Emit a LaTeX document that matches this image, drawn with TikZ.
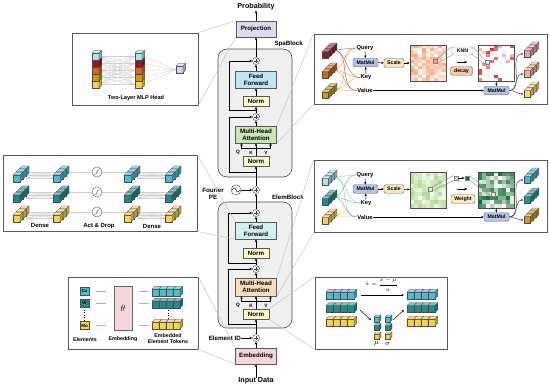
\documentclass[tikz,border=0pt]{standalone}
\usepackage{fontspec}
\setsansfont{Liberation Sans}
\usepackage{amsmath}
\usetikzlibrary{arrows.meta}

\definecolor{projfill}{HTML}{DCDCF0}
\definecolor{ffspa}{HTML}{BEE4F4}
\definecolor{ffelem}{HTML}{D2F0F0}
\definecolor{normfill}{HTML}{FAF8C8}
\definecolor{mhaspa}{HTML}{C8E6B4}
\definecolor{mhaelem}{HTML}{FADCB9}
\definecolor{embfill}{HTML}{F5D5DC}
\definecolor{blockfill}{HTML}{EFEFEF}
\definecolor{matfill}{HTML}{B4C3E6}
\definecolor{scalefill}{HTML}{F5E6C3}
\definecolor{decayfill}{HTML}{F5C8AA}
\definecolor{weightfill}{HTML}{F5EBC3}
\definecolor{cubecyanlt}{HTML}{A5E6E6}
\definecolor{cubered}{HTML}{8C1C24}
\definecolor{cubeorange}{HTML}{D2661E}
\definecolor{cubegold}{HTML}{C89B14}
\definecolor{cubeyellow}{HTML}{F5D250}
\definecolor{cubelav}{HTML}{D2D2EB}
\definecolor{cubecyan}{HTML}{4BBED2}
\definecolor{cubeteal}{HTML}{1E8C8C}
\definecolor{cubepink}{HTML}{F0A0AA}
\definecolor{cubepeach}{HTML}{F5B48C}
\definecolor{cubelemon}{HTML}{F5DC6E}
\definecolor{outcyan}{HTML}{4BB4D2}
\definecolor{outteal}{HTML}{1E9696}
\definecolor{outgold}{HTML}{C89B1E}
\definecolor{heatorange}{HTML}{E8783C}
\definecolor{heatred}{HTML}{C81E1E}
\definecolor{heatlgreen}{HTML}{8CC864}
\definecolor{heatdgreen}{HTML}{146E32}
\definecolor{embpink}{HTML}{F096AA}

\newcommand{\drawcube}[4]{%
  \filldraw[fill=#4,draw=black!70,line width=0.25pt] ({#1},{#2}) rectangle ++(#3,#3);
  \filldraw[fill=#4!55!white,draw=black!70,line width=0.25pt] ({#1},{#2}) -- ++(0.4*#3,-0.4*#3) -- ++(#3,0) -- ++(-0.4*#3,0.4*#3) -- cycle;
  \filldraw[fill=#4!75!black,draw=black!70,line width=0.25pt] ({#1+#3},{#2}) -- ++(0.4*#3,-0.4*#3) -- ++(0,#3) -- ++(-0.4*#3,0.4*#3) -- cycle;
}
\newcommand{\drawstack}[4]{%
  \foreach \k in {2,1,0}{\drawcube{#1+\k*0.45*#3}{#2-\k*0.45*#3}{#3}{#4}}%
}
\newcommand{\drawbar}[5]{%
  \foreach \k in {1,...,#4}{\drawcube{#1+(\k-1)*#3}{#2}{#3}{#5}}%
}

\begin{document}
\begin{tikzpicture}[x=1pt,y=-1pt]
\tikzset{
  mainbox/.style={draw=black!65,line width=0.5pt,minimum width=41pt,minimum height=17pt,inner sep=0pt,align=center,font=\sffamily\bfseries\fontsize{6.2}{6.8}\selectfont},
  normbox/.style={mainbox,minimum width=26pt,minimum height=10pt,fill=normfill},
  blockbg/.style={draw=black!70,line width=0.6pt,fill=blockfill,rounded corners=9pt,minimum width=74pt,inner sep=0pt},
  addnode/.style={circle,draw=black!75,fill=white,line width=0.4pt,minimum size=7pt,inner sep=0pt,
    path picture={\draw[line width=0.4pt] ([xshift=-2.2pt]path picture bounding box.center) -- ([xshift=2.2pt]path picture bounding box.center)
      ([yshift=-2.2pt]path picture bounding box.center) -- ([yshift=2.2pt]path picture bounding box.center);}},
  actnode/.style={circle,draw=black!55,fill=white,line width=0.5pt,minimum size=10pt,inner sep=0pt,
    path picture={\draw[black!60,line width=0.5pt] ([xshift=-3pt,yshift=-2pt]path picture bounding box.center) -- ([xshift=-1pt,yshift=-2pt]path picture bounding box.center)
      -- ([xshift=1pt,yshift=2pt]path picture bounding box.center) -- ([xshift=3pt,yshift=2pt]path picture bounding box.center);}},
  flow/.style={-{Stealth[length=3pt,width=2.6pt]},line width=0.6pt},
  title/.style={font=\sffamily\bfseries\fontsize{7.2}{8}\selectfont,inner sep=0pt},
  sidetext/.style={font=\sffamily\bfseries\fontsize{6.2}{7}\selectfont,align=center,inner sep=0pt},
  qkvtext/.style={font=\sffamily\bfseries\fontsize{4.8}{5}\selectfont,inner sep=0pt},
  panel/.style={draw=black!65,line width=0.7pt,fill=white,inner sep=0pt},
  guide/.style={draw=black!22,line width=0.5pt},
  paneltext/.style={font=\sffamily\bfseries\fontsize{5.6}{6.3}\selectfont,align=center,inner sep=0pt},
  attntext/.style={font=\sffamily\bfseries\fontsize{5.8}{6.5}\selectfont,inner sep=0.5pt},
  opbox/.style={draw=black!60,line width=0.4pt,rounded corners=1.5pt,minimum height=8.5pt,inner sep=0pt,font=\sffamily\bfseries\fontsize{5.2}{6}\selectfont},
  heatframe/.style={draw=black!70,line width=0.5pt,minimum size=36pt,inner sep=0pt},
  cellmark/.style={draw=black!50,line width=0.4pt,minimum size=4pt,inner sep=0pt},
  sqnode/.style={draw=black!50,line width=0.4pt,minimum size=4.5pt,inner sep=0pt},
  tubeline/.style={draw=black!40,line width=0.45pt},
  attnline/.style={line width=0.45pt,opacity=0.65},
  outarrow/.style={-{Stealth[length=2.5pt,width=2.2pt]},line width=0.5pt,draw=black!70},
  smallarrow/.style={-{Stealth[length=2.5pt,width=2.2pt]},line width=0.5pt},
  symarrow/.style={-{Stealth[length=2.6pt,width=2.6pt]},line width=0.9pt},
  fanline/.style={draw=black!18,line width=0.35pt},
  embdash/.style={draw=embpink,line width=0.9pt},
  dotline/.style={line width=0.9pt,dash pattern=on 0.9pt off 1.6pt},
  elemtag/.style={draw=black!70,line width=0.4pt,minimum width=9pt,minimum height=8pt,inner sep=0pt,font=\sffamily\bfseries\fontsize{4.5}{5}\selectfont}
}
\useasboundingbox (0,0) rectangle (550,388);
\fill[white] (0,0) rectangle (550,388);

\node[blockbg,minimum height=128pt] (spablock) at (255,113) {};
\node[blockbg,minimum height=126pt] (elemblock) at (255,265) {};
\node[sidetext,anchor=east] (spalabel) at (303,44) {SpaBlock};
\node[sidetext,anchor=east] (elemlabel) at (304,197) {ElemBlock};

\node[title] (prob) at (256,7) {Probability};
\node[mainbox,fill=projfill,minimum width=40pt,minimum height=16pt] (proj) at (256,29) {Projection};
\node[addnode] (addA) at (256,61) {};
\node[mainbox,fill=ffspa] (ffA) at (256,79.5) {Feed\\Forward};
\node[normbox] (normA) at (256,101.5) {Norm};
\node[addnode] (addB) at (256,117) {};
\node[mainbox,fill=mhaspa] (mhaA) at (256,134.5) {Multi-Head\\Attention};
\node[normbox] (normB) at (256,161) {Norm};
\coordinate (splitA) at (256,110);
\coordinate (splitB) at (256,172);
\coordinate (barA) at (256,148);
\node[qkvtext] at (238,152.5) {Q};
\node[qkvtext] at (251,152.5) {K};
\node[qkvtext] at (266,152.5) {V};

\node[sidetext] (fourier) at (213,194) {Fourier\\PE};
\node[circle,draw=black!70,line width=0.4pt,minimum size=10pt,inner sep=0pt] (sine) at (236,190) {};
\draw[line width=0.4pt] ([xshift=-3.6pt]sine.center) sin ++(1.8,-2.2) cos ++(1.8,2.2) sin ++(1.8,2.2) cos ++(1.8,-2.2);
\node[addnode] (addC) at (256,190) {};

\node[addnode] (addD) at (256,213) {};
\node[mainbox,fill=ffelem] (ffB) at (256,230.5) {Feed\\Forward};
\node[normbox] (normC) at (256,253) {Norm};
\node[addnode] (addE) at (256,269) {};
\node[mainbox,fill=mhaelem,minimum height=18pt] (mhaB) at (256,287) {Multi-Head\\Attention};
\node[normbox] (normD) at (256,314) {Norm};
\coordinate (splitC) at (256,263);
\coordinate (splitD) at (256,324);
\coordinate (barB) at (256,301);
\node[qkvtext] at (238,305.5) {Q};
\node[qkvtext] at (251,305.5) {K};
\node[qkvtext] at (266,305.5) {V};

\node[sidetext,anchor=east] (elemid) at (241,338) {Element ID};
\node[addnode] (addF) at (256,338) {};
\node[mainbox,fill=embfill,minimum height=16pt] (embed) at (256,356) {Embedding};
\node[title] (input) at (256,381) {Input Data};

\draw[flow] (input) -- (embed);
\draw[flow] (embed) -- (addF);
\draw[flow] (elemid) -- (addF);
\draw[flow] (addF) -- (normD);
\draw[flow] (normD) -- (mhaB);
\draw[flow] (barB) -- ++(-14.5,0) -- ++(0,-5);
\draw[flow] (barB) -- ++(14.5,0) -- ++(0,-5);
\draw[flow] (mhaB) -- (addE);
\draw[flow] (addE) -- (normC);
\draw[flow] (normC) -- (ffB);
\draw[flow] (ffB) -- (addD);
\draw[flow] (addD) -- (addC);
\draw[flow] (sine) -- (addC);
\draw[flow] (addC) -- (normB);
\draw[flow] (normB) -- (mhaA);
\draw[flow] (barA) -- ++(-14.5,0) -- ++(0,-5);
\draw[flow] (barA) -- ++(14.5,0) -- ++(0,-5);
\draw[flow] (mhaA) -- (addB);
\draw[flow] (addB) -- (normA);
\draw[flow] (normA) -- (ffA);
\draw[flow] (ffA) -- (addA);
\draw[flow] (addA) -- (proj);
\draw[flow] (proj) -- (prob);
\draw[flow] (splitA) -- ++(-27,0) |- (addA);
\draw[flow] (splitB) -- ++(-27,0) |- (addB);
\draw[flow] (splitC) -- ++(-28,0) |- (addD);
\draw[flow] (splitD) -- ++(-28,0) |- (addE);

% MLP head
\node[panel,minimum width=126pt,minimum height=72pt] (mlppanel) at (135,69) {};
\foreach \a in {0,...,4}{\foreach \b in {0,...,4}{\draw[fanline] (100,56.5+\a*7) -- (135,56.5+\b*7);}
  \draw[fanline] (143,56.5+\a*7) -- (176,69.5);}
\foreach \c [count=\n] in {cubeyellow,cubegold,cubeorange,cubered,cubecyanlt}{\drawcube{92}{88-\n*7}{7}{\c}\drawcube{135}{88-\n*7}{7}{\c}}
\drawcube{176}{66}{7}{cubelav}
\node[paneltext] at (136,98) {Two-Layer MLP Head};

% spatial attention
\node[panel,minimum width=233pt,minimum height=70pt] (spapanel) at (430.5,69) {};
\node[attntext] (qA) at (365,48) {Query};
\node[attntext] (kA) at (366,77.5) {Key};
\node[attntext] (vA) at (365,90.5) {Value};
\foreach \sy/\col in {50/cubered,70/cubeorange,90/cubegold}{\foreach \dst in {qA,kA,vA}{\draw[attnline,color=\col] (333,\sy) to[out=0,in=180] (\dst.west);}}
\drawstack{322}{51.5}{6.5}{cubered}
\drawstack{322}{71.5}{6.5}{cubeorange}
\drawstack{322}{92}{6.5}{cubegold}
\node[opbox,fill=matfill,minimum width=25pt] (matA) at (365.5,62.5) {MatMul};
\node[opbox,fill=scalefill,minimum width=20pt] (scaleA) at (394,63) {Scale};
\draw[smallarrow] (qA) -- (matA);
\draw[smallarrow] (kA) -- (matA);
\draw[smallarrow] (matA) -- (scaleA);
\pgfmathsetseed{42}
\foreach \i in {0,...,8}{\foreach \j in {0,...,11}{\pgfmathrandominteger{\rv}{4}{65}\fill[heatorange!\rv!white] (410+\i*4,45+\j*3) rectangle ++(4,3);}}
\node[heatframe] (heatA) at (428,63) {};
\foreach \i in {0,...,8}{\foreach \j in {0,...,11}{\pgfmathrandominteger{\rv}{0}{100}\pgfmathtruncatemacro{\cv}{\rv>76 ? 3*(\rv-70) : 0}\fill[heatred!\cv!white] (478+\i*4,45+\j*3) rectangle ++(4,3);}}
\node[heatframe] (heatB) at (496,63) {};
\draw[smallarrow] (scaleA) -- (heatA);
\node[cellmark] (kcellA) at (435,61) {};
\node[cellmark] (kcellB) at (487,62) {};
\node[opbox,draw=black!40,fill=white,minimum width=21pt,minimum height=8pt] (knn) at (462.5,51) {KNN};
\draw[tubeline] (kcellA.north east) -- (knn.north west) (kcellA.south east) -- (knn.south west);
\draw[tubeline] (knn.north east) -- (kcellB.north west) (knn.south east) -- (kcellB.south west);
\coordinate (symA1) at (457,62);
\coordinate (symA2) at (467,62);
\draw[symarrow] (symA1) -- (symA2);
\node[opbox,fill=decayfill,minimum width=22pt] (decay) at (461.5,71) {decay};
\node[opbox,fill=matfill,minimum width=25pt] (matB) at (496.5,90.5) {MatMul};
\draw[smallarrow] (heatB) -- (matB);
\draw[smallarrow] (vA) -- (matB);
\drawstack{524}{50.5}{6.5}{cubepink}
\drawstack{524}{70.5}{6.5}{cubepeach}
\drawstack{524}{90.5}{6.5}{cubelemon}
\coordinate (outA1) at (523.5,54);
\coordinate (outA2) at (523.5,74);
\coordinate (outA3) at (523.5,94);
\foreach \o in {outA1,outA2,outA3}{\draw[outarrow] (matB.east) to[out=0,in=180] (\o);}

% element attention
\node[panel,minimum width=233pt,minimum height=72pt] (elempanel) at (430.5,196) {};
\node[attntext] (qB) at (365,175) {Query};
\node[attntext] (kB) at (366,203) {Key};
\node[attntext] (vB) at (365,217) {Value};
\foreach \sy/\col in {177/cubecyan,197/cubeteal,216/cubeyellow}{\foreach \dst in {qB,kB,vB}{\draw[attnline,color=\col] (333,\sy) to[out=0,in=180] (\dst.west);}}
\drawstack{322}{178.5}{6.5}{cubecyanlt}
\drawstack{322}{198.5}{6.5}{cubeteal}
\drawstack{322}{217.5}{6.5}{cubeyellow}
\node[opbox,fill=matfill,minimum width=25pt] (matC) at (365.5,189) {MatMul};
\node[opbox,fill=scalefill,minimum width=20pt] (scaleC) at (394,189) {Scale};
\draw[smallarrow] (qB) -- (matC);
\draw[smallarrow] (kB) -- (matC);
\draw[smallarrow] (matC) -- (scaleC);
\pgfmathsetseed{7}
\foreach \i in {0,...,8}{\foreach \j in {0,...,8}{\pgfmathrandominteger{\rv}{8}{70}\fill[heatlgreen!\rv!white] (410+\i*4,172+\j*4) rectangle ++(4,4);}}
\node[heatframe] (heatC) at (428,190) {};
\foreach \i in {0,...,8}{\foreach \j in {0,...,8}{\pgfmathrandominteger{\rv}{0}{100}\fill[heatdgreen!\rv!white] (478+\i*4,172+\j*4) rectangle ++(4,4);}}
\node[heatframe] (heatD) at (496,190) {};
\draw[smallarrow] (scaleC) -- (heatC);
\node[cellmark] (wcellA) at (430,189) {};
\node[cellmark] (wcellB) at (493,194) {};
\node[sqnode,fill=heatlgreen!55!white] (sqL) at (456,178) {};
\node[sqnode,fill=heatdgreen] (sqD) at (467,178) {};
\draw[smallarrow] (sqL) -- (sqD);
\draw[tubeline] (wcellA.north east) -- (sqL.north west) (wcellA.south east) -- (sqL.south west);
\draw[tubeline] (sqD.north east) -- (wcellB.north west) (sqD.south east) -- (wcellB.south west);
\coordinate (symC1) at (457,189);
\coordinate (symC2) at (467,189);
\draw[symarrow] (symC1) -- (symC2);
\node[opbox,fill=weightfill,minimum width=24pt] (weight) at (463,199) {Weight};
\node[opbox,fill=matfill,minimum width=25pt] (matD) at (496.5,217) {MatMul};
\draw[smallarrow] (heatD) -- (matD);
\draw[smallarrow] (vB) -- (matD);
\drawstack{524}{176.5}{6.5}{outcyan}
\drawstack{524}{196.5}{6.5}{outteal}
\drawstack{524}{216.5}{6.5}{outgold}
\coordinate (outC1) at (523.5,180);
\coordinate (outC2) at (523.5,200);
\coordinate (outC3) at (523.5,220);
\foreach \o in {outC1,outC2,outC3}{\draw[outarrow] (matD.east) to[out=0,in=180] (\o);}

% feed forward detail
\node[panel,minimum width=194pt,minimum height=76pt] (ffnpanel) at (100,193) {};
\foreach \yy/\cc [count=\n] in {175/cubecyan,195/cubeteal,215/cubeyellow}{
  \foreach \a in {0,1,2}{\foreach \b in {0,1,2}{\draw[fanline] (26,\yy-3+\a*3) -- (56,\yy-3+\b*3);\draw[fanline] (137,\yy-3+\a*3) -- (167,\yy-3+\b*3);}}
  \draw[fanline] (62,\yy-3) -- (132,\yy-3);
  \drawstack{13}{\yy}{7}{\cc}
  \drawstack{53}{\yy}{7}{\cc}
  \drawstack{124}{\yy}{7}{\cc}
  \drawstack{165}{\yy}{7}{\cc}
  \node[actnode] (act\n) at (97,\yy-3) {};
}
\node[paneltext,font=\sffamily\bfseries\fontsize{6}{7}\selectfont] at (40,225.5) {Dense};
\node[paneltext,font=\sffamily\bfseries\fontsize{6}{7}\selectfont] at (99,226) {Act \& Drop};
\node[paneltext,font=\sffamily\bfseries\fontsize{6}{7}\selectfont] at (152,226) {Dense};

% embedding detail
\node[panel,minimum width=130pt,minimum height=72pt] (embpanel) at (133,313) {};
\node[elemtag,fill=cubecyan] (cu) at (84.5,291) {Cu};
\node[elemtag,fill=cubeteal] (w) at (84.5,303) {W};
\node[elemtag,fill=cubeyellow] (mo) at (84.5,325.5) {Mo};
\draw[dotline] (w.south) -- (mo.north);
\node[draw=black!60,line width=0.4pt,fill=embfill,minimum width=18pt,minimum height=44pt,inner sep=0pt,font=\fontsize{9}{10}\selectfont] (theta) at (123,308) {$\theta$};
\coordinate (tokA) at (152,291.5);
\coordinate (tokB) at (152,303.5);
\coordinate (tokC) at (152,325);
\foreach \e/\t in {cu/tokA,w/tokB,mo/tokC}{
  \draw[embdash,shorten <=7pt,shorten >=8pt] (\e) -- (\e -| theta.west);
  \draw[embdash,shorten <=7pt,shorten >=3pt] (theta.east |- \t) -- (\t);}
\drawbar{152}{289}{7}{4}{cubecyan}
\drawbar{152}{301}{7}{4}{cubeteal}
\drawbar{152}{322}{7}{4}{cubeyellow}
\coordinate (tokdotA) at (168,310);
\coordinate (tokdotB) at (168,319);
\draw[dotline] (tokdotA) -- (tokdotB);
\node[paneltext,font=\sffamily\bfseries\fontsize{5.3}{6.2}\selectfont] at (85,340) {Elements};
\node[paneltext,font=\sffamily\bfseries\fontsize{5.3}{6.2}\selectfont] at (123,339.5) {Embedding};
\node[paneltext,font=\sffamily\bfseries\fontsize{5.3}{6.6}\selectfont] at (168,338.5) {Embedded\\Element Tokens};

% layer norm detail
\node[panel,minimum width=132pt,minimum height=72pt] (lnpanel) at (381,313) {};
\foreach \yy/\cc in {292/cubecyan,305.5/cubeteal,319/cubeyellow}{\drawbar{326}{\yy}{7}{4}{\cc}\drawbar{407}{\yy}{7}{4}{\cc}}
\node[inner sep=0pt,font=\fontsize{5}{5.5}\selectfont] (formula) at (381.5,284.5) {$\displaystyle\hat{x}=\frac{x-\mu}{\sigma}$};
\coordinate (lnA) at (361,295);
\coordinate (lnB) at (404,295);
\draw[smallarrow] (lnA) -- (lnB);
\foreach \yy/\cc in {317/cubecyan,325.5/cubeteal,334/cubeyellow}{\drawcube{374}{\yy}{5}{\cc}\drawcube{385}{\yy}{5}{\cc}}
\node[inner sep=0pt,font=\fontsize{7.5}{8}\selectfont] (mulabel) at (376.5,344) {$\mu$};
\node[inner sep=0pt,font=\fontsize{7.5}{8}\selectfont] (sigmalabel) at (387.5,344) {$\sigma$};
\coordinate (lnC) at (360,310);
\coordinate (lnD) at (371,320);
\coordinate (lnE) at (393,320);
\coordinate (lnF) at (404,310);
\draw[smallarrow] (lnC) -- (lnD);
\draw[smallarrow] (lnE) -- (lnF);

\draw[guide] (mlppanel.north east) -- (proj.north west);
\draw[guide] (mlppanel.south east) -- (proj.south west);
\draw[guide] (spapanel.north west) -- (mhaA.north east);
\draw[guide] (spapanel.south west) -- (mhaA.south east);
\draw[guide] (ffnpanel.north east) -- (ffB.north west);
\draw[guide] (ffnpanel.south east) -- (ffB.south west);
\draw[guide] (elempanel.north west) -- (mhaB.north east);
\draw[guide] (elempanel.south west) -- (mhaB.south east);
\draw[guide] (embpanel.north east) -- (embed.north west);
\draw[guide] (embpanel.south east) -- (embed.south west);
\draw[guide] (lnpanel.north west) -- (normD.north east);
\draw[guide] (lnpanel.south west) -- (normD.south east);
\end{tikzpicture}
\end{document}
